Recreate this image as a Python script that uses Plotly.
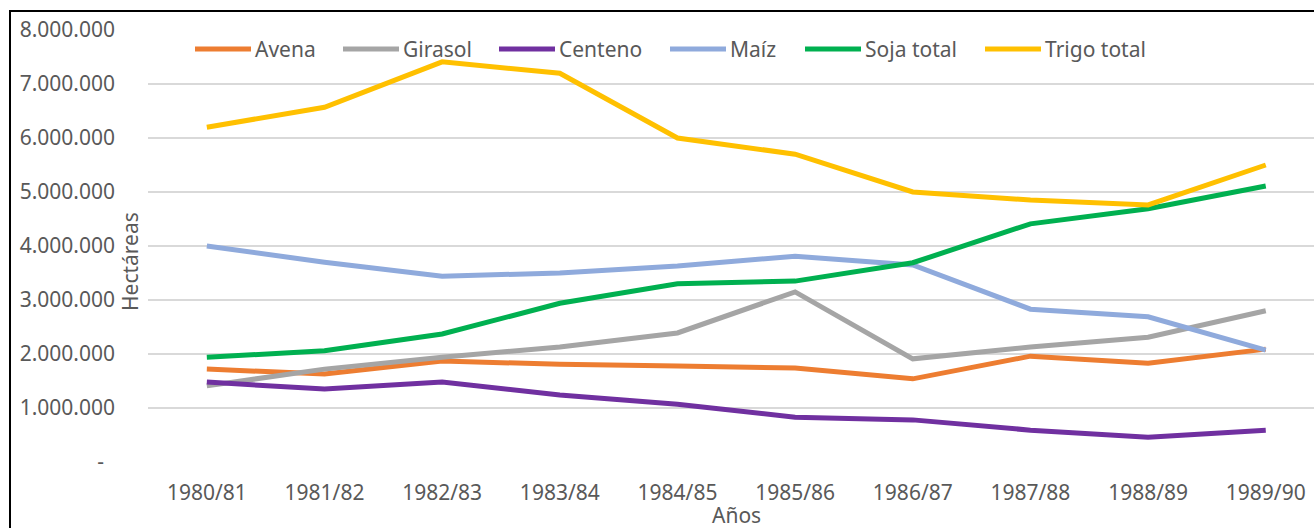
import plotly.graph_objects as go

categories = ["1980/81", "1981/82", "1982/83", "1983/84", "1984/85",
              "1985/86", "1986/87", "1987/88", "1988/89", "1989/90"]

avena = [1720000, 1630000, 1870000, 1810000, 1780000, 1740000, 1540000, 1960000, 1830000, 2090000]
girasol = [1410000, 1720000, 1940000, 2130000, 2390000, 3150000, 1910000, 2130000, 2310000, 2800000]
centeno = [1480000, 1350000, 1480000, 1240000, 1070000, 830000, 780000, 590000, 460000, 590000]
maiz = [4000000, 3700000, 3440000, 3500000, 3630000, 3810000, 3650000, 2830000, 2690000, 2070000]
soja = [1940000, 2060000, 2370000, 2940000, 3300000, 3350000, 3690000, 4410000, 4690000, 5110000]
trigo = [6200000, 6570000, 7410000, 7200000, 6000000, 5700000, 5000000, 4850000, 4760000, 5500000]

series_names = ["Avena", "Girasol", "Centeno", "Maíz", "Soja total", "Trigo total"]
series_values = [avena, girasol, centeno, maiz, soja, trigo]
series_colors = ["#ED7D31", "#A5A5A5", "#7030A0", "#8FAADC", "#00B050", "#FFC000"]

y_tickvals = [0, 1000000, 2000000, 3000000, 4000000, 5000000, 6000000, 7000000, 8000000]
y_ticktext = ["-  ", "1.000.000", "2.000.000", "3.000.000", "4.000.000",
              "5.000.000", "6.000.000", "7.000.000", "8.000.000"]

FONT = "Noto Sans"
GRAY = "#595959"

# layout geometry (pixels)
W, H = 1314, 528
PL, PT, PB = 148, 30, 462
PW = W - PL
PH = PB - PT

def px_x(p):
    return (p - PL) / PW

def px_y(p):
    return (PB - p) / PH

# legend entry start pixels (layout only)
legend_x = [195, 343, 499, 670, 805, 985]
legend_y = 49
legend_line_len = 56

xidx = list(range(len(categories)))

fig = go.Figure()
for name, vals, col in zip(series_names, series_values, series_colors):
    fig.add_trace(go.Scatter(
        x=xidx, y=vals, name=name, mode="lines",
        line=dict(color=col, width=5),
        showlegend=False,
    ))

fig.update_layout(
    width=W, height=H,
    margin=dict(l=PL, r=0, t=PT, b=H - PB, autoexpand=False),
    paper_bgcolor="white", plot_bgcolor="white",
    font=dict(family=FONT, size=21, color=GRAY),
    showlegend=False,
    xaxis=dict(
        tickmode="array", tickvals=xidx, ticktext=categories,
        range=[-0.5, 9.41], showgrid=False, zeroline=False, showline=False,
        ticks="", ticklabelstandoff=16,
        tickfont=dict(family=FONT, size=21, color=GRAY),
    ),
    yaxis=dict(
        range=[0, 8000000], tickmode="array", tickvals=y_tickvals, ticktext=y_ticktext,
        showgrid=True, gridcolor="#D9D9D9", gridwidth=2, zeroline=False, showline=False,
        ticks="", ticklabelstandoff=32,
        tickfont=dict(family=FONT, size=21, color=GRAY),
    ),
)

# Manual legend (Excel-style: long line + text)
for name, col, lx in zip(series_names, series_colors, legend_x):
    fig.add_shape(type="line", xref="paper", yref="paper",
                  x0=px_x(lx), x1=px_x(lx + legend_line_len),
                  y0=px_y(legend_y), y1=px_y(legend_y),
                  line=dict(color=col, width=5))
    fig.add_annotation(text=name, xref="paper", yref="paper",
                       x=px_x(lx + legend_line_len + 2), y=px_y(legend_y),
                       xanchor="left", yanchor="middle", showarrow=False,
                       font=dict(family=FONT, size=21, color=GRAY))

# Axis titles
fig.add_annotation(text="Hectáreas", xref="paper", yref="paper",
                   x=px_x(130), y=px_y(262), textangle=-90,
                   showarrow=False, font=dict(family=FONT, size=21, color=GRAY),
                   xanchor="center", yanchor="middle")
fig.add_annotation(text="Años", xref="paper", yref="paper",
                   x=px_x(736), y=px_y(515),
                   showarrow=False, font=dict(family=FONT, size=21, color=GRAY),
                   xanchor="center", yanchor="middle")

# Chart frame
fig.add_shape(type="rect", xref="paper", yref="paper",
              x0=px_x(10), x1=1.2, y0=-0.5, y1=px_y(11),
              line=dict(color="black", width=2), fillcolor="rgba(0,0,0,0)", layer="below")

fig.write_html("out.html",
               config={"displayModeBar": False},
               post_script="document.body.style.margin='0';document.body.style.padding='0';")
